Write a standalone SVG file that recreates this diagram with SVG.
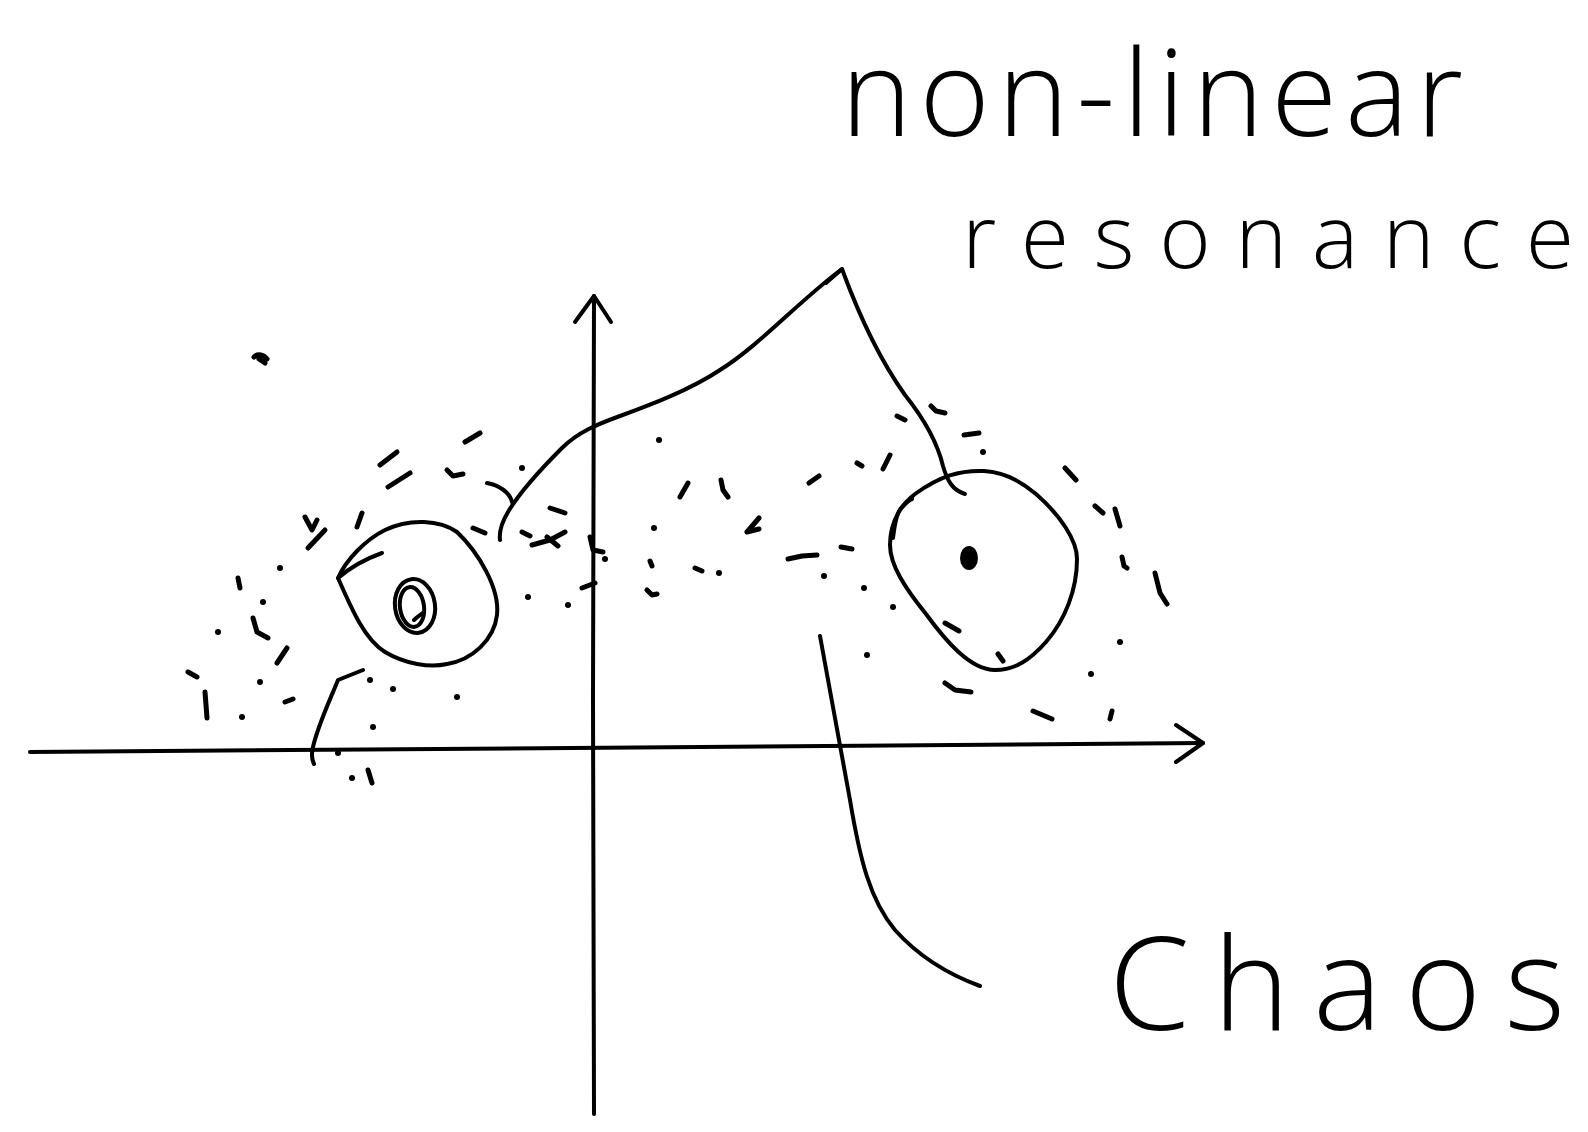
<svg xmlns="http://www.w3.org/2000/svg" width="1588" height="1132" viewBox="0 0 1588 1132">
<style>
.ln{fill:none;stroke:#000;stroke-width:4;stroke-linecap:round;stroke-linejoin:round}
.ds{fill:none;stroke:#000;stroke-width:5;stroke-linecap:round;stroke-linejoin:round}
.dt{fill:#000}
.lbl{font-family:"Open Sans","Liberation Sans",Arial,sans-serif;font-weight:300;fill:#000}
</style>
<rect width="1588" height="1132" fill="#fff"/>
<g id="axes">
<path class="ln" d="M30,752 L700,747 L1203,743"/>
<path class="ln" d="M1176,725 L1203,743 L1176,762"/>
<path class="ln" d="M594,296 L593,700 L594,1114"/>
<path class="ln" d="M575,322 L594,296 L611,322"/>
</g>
<g id="left-island">
<path class="ln" d="M338,578 C352,610 365,640 385,652 C405,664 430,668 447,664 C472,660 494,640 497,615 C500,588 478,552 457,532 C440,520 410,518 385,530 C365,540 346,560 338,578 Z"/>
<path class="ln" d="M338,578 C352,566 368,558 382,553"/>
<ellipse class="ln" cx="415" cy="606" rx="20" ry="27" transform="rotate(-8 415 606)"/>
<ellipse class="ln" cx="412" cy="607" rx="12" ry="20" transform="rotate(-8 412 607)"/>
<path class="ln" d="M414,620 C418,616 422,614 424,612"/>
</g>
<g id="right-island">
<path class="ln" d="M915,494 C940,476 960,470 984,471 C1005,472 1022,482 1036,494 C1060,515 1077,540 1077,559 C1077,590 1065,620 1046,642 C1030,660 1015,670 995,670 C970,670 945,640 926,614 C905,588 890,565 890,545 C890,520 903,503 915,494 Z"/>
<path class="ln" d="M893,538 C895,522 898,510 902,507 C906,503 909,500 912,499"/>
<ellipse class="dt" cx="969" cy="558" rx="9" ry="12"/>
</g>
<g id="chaos-sea">
<path class="ds" d="M254,357 C258,353 264,355 267,359 M259,359 L265,363"/>
<path class="ds" d="M380,465 L397,452 M388,487 L410,473 M465,442 L480,433 M447,470 L453,476 L463,474"/>
<path class="ds" d="M305,517 L312,530 L317,520 M308,548 L325,530 M362,513 L357,527 M473,528 L485,533"/>
<path class="ds" d="M550,508 L565,513 M522,532 L530,536 M532,545 L550,540 L565,532 M547,537 L558,546 M590,537 L593,550 L603,552 M582,588 L595,583"/>
<path class="ds" d="M238,578 L240,588 M253,618 L257,632 L268,638 M287,648 L277,663 M188,672 L197,677 M205,692 L207,718 M285,702 L293,699 M368,770 L372,783"/>
<path class="ds" d="M680,497 L688,483 M721,480 L723,490 L728,497 M650,561 L652,566 M647,590 L652,595 L657,594 M695,568 L702,571"/>
<path class="ds" d="M759,518 L747,532 L759,529 M809,483 L819,476 M857,463 L862,466 M883,469 L890,455 M897,416 L905,420 M931,406 L936,411 L945,413 M964,435 L979,433"/>
<path class="ds" d="M788,559 L802,556 L817,555 M841,547 L852,549 M945,623 L959,631 M998,654 L1003,661 M945,683 L955,690 L971,692 M1033,711 L1052,719 M1110,719 L1112,711"/>
<path class="ds" d="M1065,468 L1076,480 M1095,506 L1103,513 M1115,509 L1120,526 M1122,557 L1124,566 L1127,568 M1155,573 L1160,593 L1167,604"/>
<g class="dt">
<circle cx="522" cy="468" r="3"/><circle cx="280" cy="568" r="3"/><circle cx="263" cy="602" r="3"/><circle cx="218" cy="632" r="3"/>
<circle cx="260" cy="682" r="3"/><circle cx="242" cy="717" r="3"/><circle cx="370" cy="680" r="3"/><circle cx="393" cy="689" r="3"/>
<circle cx="457" cy="697" r="3"/><circle cx="373" cy="727" r="3"/><circle cx="338" cy="753" r="3"/><circle cx="352" cy="778" r="3"/>
<circle cx="528" cy="597" r="3"/><circle cx="568" cy="605" r="3"/><circle cx="605" cy="559" r="3"/><circle cx="659" cy="440" r="3"/>
<circle cx="654" cy="528" r="3"/><circle cx="719" cy="573" r="3"/><circle cx="983" cy="452" r="3"/><circle cx="824" cy="576" r="3"/>
<circle cx="864" cy="588" r="3"/><circle cx="893" cy="607" r="3"/><circle cx="867" cy="655" r="3"/><circle cx="1091" cy="674" r="3"/>
<circle cx="1120" cy="642" r="3"/>
</g>
</g>
<g id="connectors">
<path class="ln" d="M842,269 C800,300 760,345 720,370 C690,390 650,405 620,416 C598,424 578,432 562,448 C540,470 518,495 508,512 C502,522 499,532 500,540"/>
<path class="ln" d="M487,483 C498,485 510,492 512,502"/>
<path class="ln" d="M826,283 L842,269 C860,318 880,360 905,395 C925,420 938,445 943,466 C947,480 952,490 965,494"/>
<path class="ln" d="M363,670 L338,680 C330,700 318,725 313,747 C311,755 312,760 314,764"/>
<path class="ln" d="M820,636 C830,690 840,745 850,800 C860,860 870,900 895,930 C920,958 950,975 980,986"/>
</g>
<g id="label-resonance">
<text class="lbl" x="841" y="136" font-size="120" textLength="622" lengthAdjust="spacing">non-linear</text>
<text class="lbl" x="962" y="268" font-size="88" textLength="612" lengthAdjust="spacing">resonance</text>
</g>
<g id="label-chaos">
<text class="lbl" x="1109" y="1030" font-size="130" textLength="456" lengthAdjust="spacing">Chaos</text>
</g>
</svg>
